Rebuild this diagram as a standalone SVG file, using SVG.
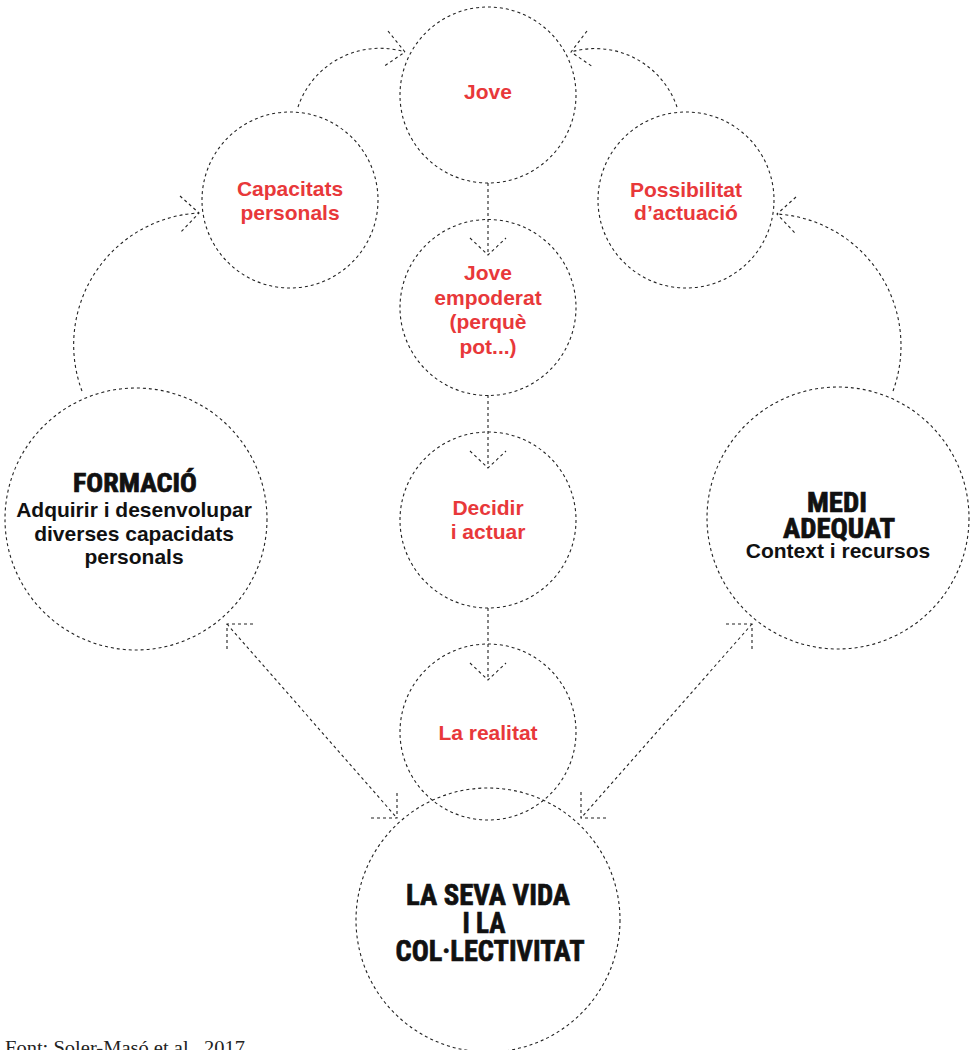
<svg xmlns="http://www.w3.org/2000/svg" width="976" height="1050" viewBox="0 0 976 1050">
<style>
.c{fill:none;stroke:#222;stroke-width:1.1;stroke-dasharray:3 3}
.l{fill:none;stroke:#222;stroke-width:1.1;stroke-dasharray:3 3}
.r{font-family:"Liberation Sans",Arial,sans-serif;font-weight:bold;font-size:21px;fill:#e8383a;text-anchor:middle}
.b{font-family:"Liberation Sans",Arial,sans-serif;font-weight:bold;font-size:21px;fill:#111;text-anchor:middle}
.h{font-family:"Liberation Sans Narrow","Roboto Condensed","DejaVu Sans Condensed","Liberation Sans",sans-serif;font-weight:bold;fill:#111;stroke:#111;stroke-width:0.7;text-anchor:middle}
.f{font-family:"Liberation Serif","DejaVu Serif",serif;font-size:19px;fill:#222}
</style>
<rect width="976" height="1050" fill="#fff"/>
<g id="connectors">
<path class="l" d="M298,107 A86.5,86.5 0 0 1 405,52"/>
<path class="l" d="M388,31 L405,52 L383,67"/>
<path class="l" d="M677,107 A86.5,86.5 0 0 0 571,52"/>
<path class="l" d="M587,31 L571,52 L593,67"/>
<path class="l" d="M82,391 A132,132 0 0 1 199,213"/>
<path class="l" d="M180,196 L199,213 L180,233"/>
<path class="l" d="M893,391 A132,132 0 0 0 777,214"/>
<path class="l" d="M796,197 L777,214 L795,233"/>
<path class="l" d="M488,183 L488,255"/>
<path class="l" d="M470,238 L488,255 L506,238"/>
<path class="l" d="M488,395 L488,468"/>
<path class="l" d="M470,451 L488,468 L506,451"/>
<path class="l" d="M488,608 L488,680"/>
<path class="l" d="M470,663 L488,680 L506,663"/>
<path class="l" d="M227,624 L397,818"/>
<path class="l" d="M253,624 L227,624 L227,651"/>
<path class="l" d="M371,818 L397,818 L397,792"/>
<path class="l" d="M752,624 L581,818"/>
<path class="l" d="M726,624 L752,624 L752,651"/>
<path class="l" d="M581,792 L581,818 L607,818"/>
</g>
<g id="jove">
<circle class="c" cx="488" cy="95" r="88"/>
<text class="r" x="488" y="99">Jove</text>
</g>
<g id="capacitats">
<circle class="c" cx="290" cy="200" r="88"/>
<text class="r" x="290" y="196">Capacitats</text>
<text class="r" x="290" y="220">personals</text>
</g>
<g id="possibilitat">
<circle class="c" cx="686" cy="200" r="88"/>
<text class="r" x="686" y="197">Possibilitat</text>
<text class="r" x="686" y="220">d’actuació</text>
</g>
<g id="empoderat">
<circle class="c" cx="488" cy="307.5" r="88"/>
<text class="r" x="488" y="280">Jove</text>
<text class="r" x="488" y="304.5">empoderat</text>
<text class="r" x="488" y="329">(perquè</text>
<text class="r" x="488" y="353.5">pot...)</text>
</g>
<g id="decidir">
<circle class="c" cx="488" cy="520" r="88"/>
<text class="r" x="488" y="515">Decidir</text>
<text class="r" x="488" y="539">i actuar</text>
</g>
<g id="realitat">
<circle class="c" cx="488" cy="732" r="88"/>
<text class="r" x="488" y="740">La realitat</text>
</g>
<g id="formacio">
<circle class="c" cx="136" cy="519" r="131"/>
<text class="h" x="135" y="492" font-size="25" textLength="124" lengthAdjust="spacingAndGlyphs">FORMACIÓ</text>
<text class="b" x="134" y="517">Adquirir i desenvolupar</text>
<text class="b" x="134" y="541">diverses capacidats</text>
<text class="b" x="134" y="564">personals</text>
</g>
<g id="medi">
<circle class="c" cx="838" cy="518" r="131"/>
<text class="h" x="837" y="512" font-size="28" textLength="60" lengthAdjust="spacingAndGlyphs">MEDI</text>
<text class="h" x="839" y="538" font-size="28" textLength="112" lengthAdjust="spacingAndGlyphs">ADEQUAT</text>
<text class="b" x="838" y="558">Context i recursos</text>
</g>
<g id="vida">
<circle class="c" cx="488" cy="920" r="132"/>
<text class="h" x="488" y="905" font-size="30" textLength="164" lengthAdjust="spacingAndGlyphs">LA SEVA VIDA</text>
<text class="h" x="484" y="933" font-size="30" textLength="43" lengthAdjust="spacingAndGlyphs">I LA</text>
<text class="h" x="490" y="961" font-size="30" textLength="189" lengthAdjust="spacingAndGlyphs">COL·LECTIVITAT</text>
</g>
<text class="f" x="5" y="1054" textLength="240" lengthAdjust="spacingAndGlyphs">Font: Soler-Masó et al., 2017</text>
</svg>
